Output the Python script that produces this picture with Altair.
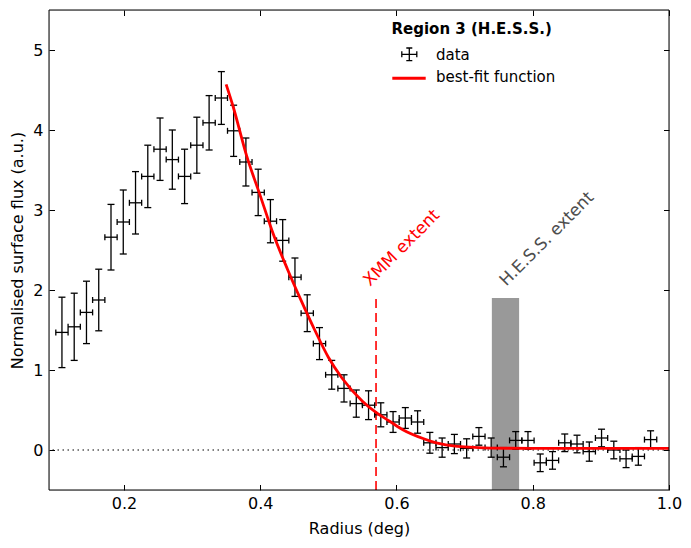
import altair as alt
import pandas as pd

# ---- data ----
radius = [0.109, 0.127, 0.145, 0.163, 0.181, 0.199, 0.217, 0.235, 0.253, 0.271,
          0.289, 0.307, 0.325, 0.343, 0.361, 0.379, 0.397, 0.415, 0.433, 0.451,
          0.469, 0.487, 0.505, 0.523, 0.541, 0.559, 0.577, 0.595, 0.613, 0.631,
          0.649, 0.667, 0.685, 0.703, 0.721, 0.739, 0.757, 0.775, 0.793, 0.811,
          0.829, 0.847, 0.865, 0.883, 0.901, 0.919, 0.937, 0.955, 0.973]
flux = [1.47, 1.54, 1.72, 1.875, 2.66, 2.85, 3.09, 3.42, 3.76, 3.63,
        3.42, 3.81, 4.09, 4.40, 3.99, 3.60, 3.22, 2.86, 2.62, 2.16,
        1.71, 1.33, 0.94, 0.77, 0.58, 0.56, 0.44, 0.35, 0.40, 0.35,
        0.09, 0.03, 0.075, 0.02, 0.17, 0.03, -0.09, 0.12, 0.12, -0.16,
        -0.13, 0.09, 0.075, -0.02, 0.15, 0.0, -0.11, -0.08, 0.13]
flux_err = [0.44, 0.42, 0.39, 0.385, 0.41, 0.40, 0.39, 0.39, 0.39, 0.37,
            0.34, 0.35, 0.34, 0.33, 0.32, 0.30, 0.29, 0.27, 0.26, 0.24,
            0.23, 0.20, 0.18, 0.17, 0.17, 0.18, 0.15, 0.13, 0.13, 0.14,
            0.13, 0.12, 0.12, 0.12, 0.11, 0.12, 0.12, 0.11, 0.11, 0.11,
            0.11, 0.11, 0.11, 0.12, 0.11, 0.11, 0.11, 0.11, 0.11]
bin_halfwidth = 0.009

fit_radius = [0.35, 0.36, 0.38, 0.40, 0.42, 0.44, 0.46, 0.48, 0.50, 0.52,
              0.55, 0.57, 0.59, 0.61, 0.64, 0.66, 0.69, 0.72, 0.76, 0.80, 0.90, 1.00]
fit_flux = [4.57, 4.30, 3.68, 3.18, 2.68, 2.26, 1.87, 1.50, 1.16, 0.90,
            0.61, 0.47, 0.36, 0.25, 0.14, 0.085, 0.045, 0.03, 0.022, 0.02, 0.02, 0.02]

xmm_extent = 0.57
hess_extent = [0.74, 0.78]
extent_top = 1.9

x_ticks = [0.2, 0.4, 0.6, 0.8, 1.0]
y_ticks = [0, 1, 2, 3, 4, 5]
x_domain = [0.09, 1.0]
y_domain = [-0.5, 5.5]

FONT = "DejaVu Sans"
W, H = 620, 480

pts = pd.DataFrame({"radius": radius, "flux": flux, "err": flux_err})
fit = pd.DataFrame({"radius": fit_radius, "flux": fit_flux})
one = pd.DataFrame({"k": [0]})

xs = alt.Scale(domain=x_domain, nice=False, zero=False)
ys = alt.Scale(domain=y_domain, nice=False, zero=False)

common = dict(tickSize=5.5, offset=-5.5, domain=False, grid=False, labelFontSize=16,
              titleFontSize=16, labelFont=FONT, titleFont=FONT, tickColor="black",
              labelColor="black", titleColor="black", titleFontWeight="normal",
              tickWidth=1, labelFlush=False)
xaxis = alt.Axis(values=x_ticks, format=".1f", labelPadding=5, titlePadding=9, **common)
yaxis = alt.Axis(values=y_ticks, format="d", labelPadding=6, titlePadding=7, **common)
XT = "Radius (deg)"
YT = "Normalised surface flux (a.u.)"


def X(f):
    return alt.X(f, scale=xs, axis=xaxis, title=XT)


def Y(f):
    return alt.Y(f, scale=ys, axis=yaxis, title=YT)


base = alt.Chart(pts).transform_calculate(
    ylo="datum.flux - datum.err",
    yhi="datum.flux + datum.err",
    xlo=f"datum.radius - {bin_halfwidth}",
    xhi=f"datum.radius + {bin_halfwidth}",
)

zero_line = alt.Chart(one).mark_rule(color="black", strokeWidth=1, strokeDash=[1.5, 3.5]).encode(
    y=alt.datum(0)
)
hess_rect = alt.Chart(one).mark_rect(color="#999999").encode(
    x=alt.datum(hess_extent[0]), x2=alt.datum(hess_extent[1]),
    y=alt.datum(y_domain[0]), y2=alt.datum(extent_top)
)
xmm_line = alt.Chart(one).mark_rule(color="red", strokeWidth=1.6, strokeDash=[9, 5]).encode(
    x=alt.datum(xmm_extent), y=alt.datum(y_domain[0]), y2=alt.datum(extent_top)
)

vbar = base.mark_rule(color="black", strokeWidth=1.3).encode(
    x=X("radius:Q"), y=Y("ylo:Q"), y2="yhi:Q"
)
hbar = base.mark_rule(color="black", strokeWidth=1.3).encode(
    x=X("xlo:Q"), x2="xhi:Q", y=Y("flux:Q")
)
cap_lo = base.mark_tick(orient="horizontal", size=7, thickness=1.3, color="black", opacity=1).encode(
    x=X("radius:Q"), y=Y("ylo:Q"))
cap_hi = base.mark_tick(orient="horizontal", size=7, thickness=1.3, color="black", opacity=1).encode(
    x=X("radius:Q"), y=Y("yhi:Q"))
cap_l = base.mark_tick(orient="vertical", size=6, thickness=1.3, color="black", opacity=1).encode(
    x=X("xlo:Q"), y=Y("flux:Q"))
cap_r = base.mark_tick(orient="vertical", size=6, thickness=1.3, color="black", opacity=1).encode(
    x=X("xhi:Q"), y=Y("flux:Q"))

fit_line = alt.Chart(fit).mark_line(color="red", strokeWidth=2.8, interpolate="monotone", clip=True).encode(
    x=X("radius:Q"), y=Y("flux:Q")
)

xmm_text = alt.Chart(one).mark_text(
    text="XMM extent", angle=315, align="left", baseline="alphabetic",
    fontSize=16.8, font=FONT, color="red"
).encode(x=alt.datum(0.561), y=alt.datum(2.04))
hess_text = alt.Chart(one).mark_text(
    text="H.E.S.S. extent", angle=315, align="left", baseline="alphabetic",
    fontSize=16.8, font=FONT, color="#4d4d4d"
).encode(x=alt.datum(0.761), y=alt.datum(2.04))

# legend (drawn in pixel space)
leg_title = alt.Chart(one).mark_text(
    text="Region 3 (H.E.S.S.)", fontWeight="bold", fontSize=15, font=FONT,
    align="left", baseline="alphabetic", color="black"
).encode(x=alt.value(342.5), y=alt.value(24))
errbar_path = ("M-1,0L1,0M0,-0.84L0,0.84M-0.4,-0.84L0.4,-0.84M-0.4,0.84L0.4,0.84"
               "M-1,-0.4L-1,0.4M1,-0.4L1,0.4")
leg_sym = alt.Chart(one).mark_point(
    shape=errbar_path, size=225, filled=False, stroke="black", strokeWidth=1.3, opacity=1
).encode(x=alt.value(360.3), y=alt.value(44.3))
leg_line = alt.Chart(one).mark_rule(color="red", strokeWidth=3).encode(
    x=alt.value(343.3), x2=alt.value(376.7), y=alt.value(68.3)
)
leg_data = alt.Chart(one).mark_text(
    text="data", fontSize=15, font=FONT, align="left", baseline="alphabetic", color="black"
).encode(x=alt.value(387), y=alt.value(50))
leg_fit = alt.Chart(one).mark_text(
    text="best-fit function", fontSize=15, font=FONT, align="left", baseline="alphabetic", color="black"
).encode(x=alt.value(387), y=alt.value(71.7))

frame = alt.Chart(one).mark_rect(fill=None, stroke="black", strokeWidth=1).encode(
    x=alt.value(0), x2=alt.value(W), y=alt.value(0), y2=alt.value(H)
)

inner = alt.layer(
    zero_line, hess_rect, xmm_line, vbar, hbar, cap_lo, cap_hi, cap_l, cap_r,
    fit_line, xmm_text, hess_text, leg_title, leg_sym, leg_line, leg_data, leg_fit, frame
)

axes_tr = alt.Chart(pts).mark_point(opacity=0).encode(
    x=alt.X("radius:Q", scale=xs, axis=alt.Axis(
        orient="top", values=x_ticks, labels=False, title=None, tickSize=5.5,
        offset=-5.5, domain=False, grid=False, tickColor="black", tickWidth=1)),
    y=alt.Y("flux:Q", scale=ys, axis=alt.Axis(
        orient="right", values=y_ticks, labels=False, title=None, tickSize=5.5,
        offset=-5.5, domain=False, grid=False, tickColor="black", tickWidth=1)),
)

chart = alt.layer(inner, axes_tr).resolve_axis(x="independent", y="independent").properties(
    width=W, height=H,
    autosize=alt.AutoSizeParams(type="none"),
    padding={"left": 41, "top": 2, "right": 14, "bottom": 50},
).configure_view(stroke=None).configure(background="white")

chart.save("out.html", embed_options={"renderer": "svg", "actions": False})
